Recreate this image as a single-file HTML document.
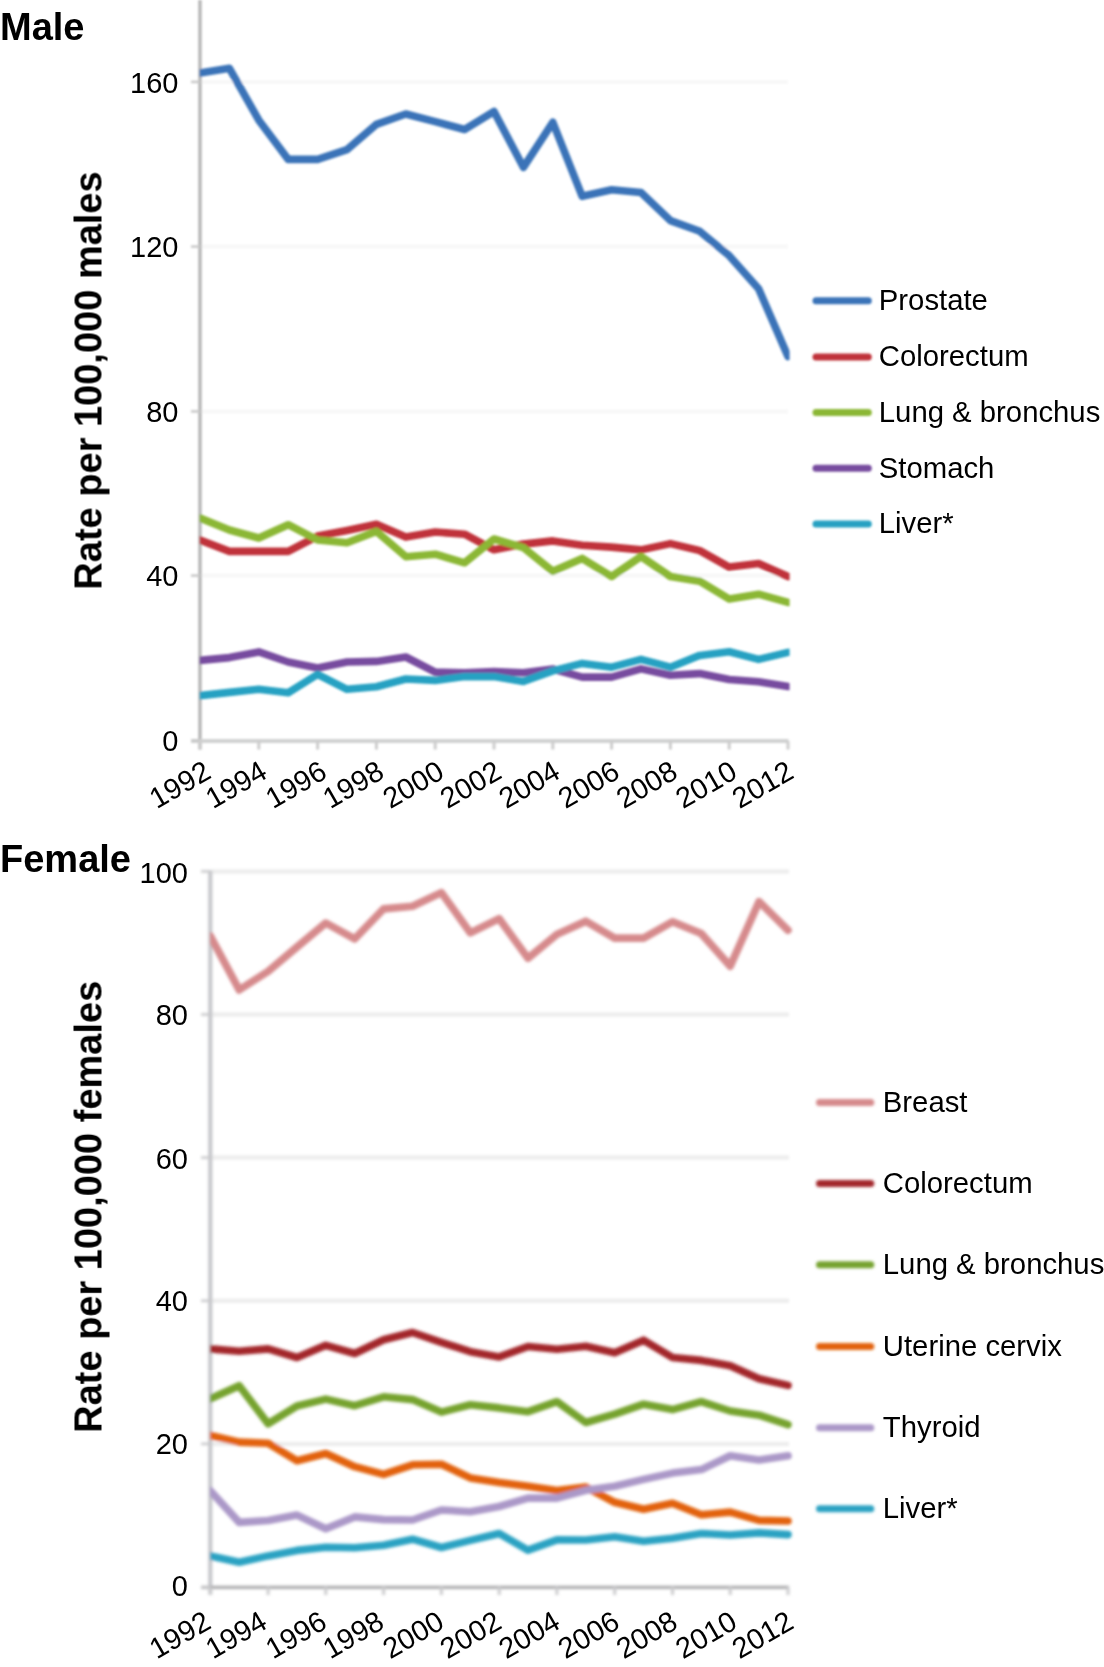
<!DOCTYPE html>
<html><head><meta charset="utf-8"><title>Cancer incidence trends</title>
<style>
html,body{margin:0;padding:0;background:#fff;overflow:hidden;width:1104px;height:1667px;}
svg{display:block;}
text{font-family:"Liberation Sans", sans-serif;fill:#000;}
</style></head><body>
<svg width="1104" height="1667" viewBox="0 0 1104 1667">
<defs><filter id="soft" filterUnits="userSpaceOnUse" x="0" y="0" width="1104" height="1667"><feGaussianBlur stdDeviation="1"/></filter>
<filter id="soft2" filterUnits="userSpaceOnUse" x="0" y="0" width="1104" height="1667"><feGaussianBlur stdDeviation="1.5"/></filter>
<filter id="flat" filterUnits="userSpaceOnUse" x="0" y="0" width="1104" height="1667"><feOffset dx="0" dy="0"/></filter>
<clipPath id="mclip"><rect x="199.6" y="0" width="590" height="760"/></clipPath>
<clipPath id="fclip"><rect x="209.9" y="860" width="584" height="740"/></clipPath></defs>
<rect width="1104" height="1667" fill="#fff"/>
<g filter="url(#soft)">
<line x1="201" y1="81.9" x2="788" y2="81.9" stroke="#f8f8f8" stroke-width="4"/>
<line x1="201" y1="246.6" x2="788" y2="246.6" stroke="#f8f8f8" stroke-width="4"/>
<line x1="201" y1="411.4" x2="788" y2="411.4" stroke="#f8f8f8" stroke-width="4"/>
<line x1="201" y1="575.6" x2="788" y2="575.6" stroke="#f8f8f8" stroke-width="4"/>
<line x1="200" y1="0" x2="200" y2="749.5" stroke="#b6b6b6" stroke-width="3.4"/>
<line x1="191" y1="741" x2="788.5" y2="741" stroke="#d0d1d1" stroke-width="3.8"/>
<line x1="191" y1="81.9" x2="200" y2="81.9" stroke="#c8c8c8" stroke-width="2.5"/>
<line x1="191" y1="246.6" x2="200" y2="246.6" stroke="#c8c8c8" stroke-width="2.5"/>
<line x1="191" y1="411.4" x2="200" y2="411.4" stroke="#c8c8c8" stroke-width="2.5"/>
<line x1="191" y1="575.6" x2="200" y2="575.6" stroke="#c8c8c8" stroke-width="2.5"/>
<line x1="191" y1="740.5" x2="200" y2="740.5" stroke="#c8c8c8" stroke-width="2.5"/>
<line x1="200.0" y1="741" x2="200.0" y2="749.5" stroke="#cdcdcd" stroke-width="3"/>
<line x1="258.8" y1="741" x2="258.8" y2="749.5" stroke="#cdcdcd" stroke-width="3"/>
<line x1="317.6" y1="741" x2="317.6" y2="749.5" stroke="#cdcdcd" stroke-width="3"/>
<line x1="376.4" y1="741" x2="376.4" y2="749.5" stroke="#cdcdcd" stroke-width="3"/>
<line x1="435.2" y1="741" x2="435.2" y2="749.5" stroke="#cdcdcd" stroke-width="3"/>
<line x1="494.0" y1="741" x2="494.0" y2="749.5" stroke="#cdcdcd" stroke-width="3"/>
<line x1="552.8" y1="741" x2="552.8" y2="749.5" stroke="#cdcdcd" stroke-width="3"/>
<line x1="611.6" y1="741" x2="611.6" y2="749.5" stroke="#cdcdcd" stroke-width="3"/>
<line x1="670.4" y1="741" x2="670.4" y2="749.5" stroke="#cdcdcd" stroke-width="3"/>
<line x1="729.2" y1="741" x2="729.2" y2="749.5" stroke="#cdcdcd" stroke-width="3"/>
<line x1="788.0" y1="741" x2="788.0" y2="749.5" stroke="#cdcdcd" stroke-width="3"/>
<g clip-path="url(#mclip)">
<polyline points="200.0,73.0 229.4,68.3 258.8,120.2 288.2,159.4 317.6,159.4 347.0,149.7 376.4,124.4 405.8,114.0 435.2,121.6 464.6,129.5 494.0,111.5 523.4,167.3 552.8,122.3 582.2,196.3 611.6,189.7 641.0,192.5 670.4,220.6 699.8,231.3 729.2,255.7 758.6,288.8 788.0,356.5" fill="none" stroke="#3b73b8" stroke-width="7.6" stroke-linejoin="round" stroke-linecap="round"/>
<polyline points="200.0,540.0 229.4,551.4 258.8,551.4 288.2,551.4 317.6,536.1 347.0,530.4 376.4,524.3 405.8,537.1 435.2,532.0 464.6,534.2 494.0,549.8 523.4,544.1 552.8,540.9 582.2,545.2 611.6,547.1 641.0,549.9 670.4,543.6 699.8,550.6 729.2,567.1 758.6,563.6 788.0,576.6" fill="none" stroke="#c0333a" stroke-width="7.6" stroke-linejoin="round" stroke-linecap="round"/>
<polyline points="200.0,518.1 229.4,530.0 258.8,538.0 288.2,524.7 317.6,540.0 347.0,542.8 376.4,531.4 405.8,556.7 435.2,554.2 464.6,562.8 494.0,539.0 523.4,547.6 552.8,571.3 582.2,558.4 611.6,576.5 641.0,556.5 670.4,576.5 699.8,581.3 729.2,598.9 758.6,594.2 788.0,602.4" fill="none" stroke="#8bb734" stroke-width="7.6" stroke-linejoin="round" stroke-linecap="round"/>
<polyline points="200.0,660.4 229.4,657.6 258.8,651.9 288.2,662.0 317.6,668.0 347.0,662.0 376.4,661.4 405.8,657.0 435.2,672.2 464.6,672.8 494.0,671.5 523.4,672.8 552.8,669.0 582.2,677.1 611.6,677.1 641.0,668.9 670.4,675.2 699.8,673.6 729.2,679.5 758.6,681.8 788.0,686.5" fill="none" stroke="#774c9f" stroke-width="7.6" stroke-linejoin="round" stroke-linecap="round"/>
<polyline points="200.0,695.6 229.4,692.4 258.8,689.3 288.2,692.8 317.6,674.4 347.0,689.3 376.4,686.7 405.8,679.0 435.2,680.4 464.6,676.6 494.0,676.6 523.4,681.4 552.8,670.9 582.2,663.4 611.6,667.2 641.0,659.4 670.4,667.2 699.8,655.4 729.2,651.7 758.6,659.4 788.0,652.4" fill="none" stroke="#28a1c2" stroke-width="7.6" stroke-linejoin="round" stroke-linecap="round"/>
</g>
<line x1="816" y1="300.8" x2="868.3" y2="300.8" stroke="#3b73b8" stroke-width="7" stroke-linecap="round"/>
<line x1="816" y1="357" x2="868.3" y2="357" stroke="#c0333a" stroke-width="7" stroke-linecap="round"/>
<line x1="816" y1="412.6" x2="868.3" y2="412.6" stroke="#8bb734" stroke-width="7" stroke-linecap="round"/>
<line x1="816" y1="468.3" x2="868.3" y2="468.3" stroke="#774c9f" stroke-width="7" stroke-linecap="round"/>
<line x1="816" y1="523.9" x2="868.3" y2="523.9" stroke="#28a1c2" stroke-width="7" stroke-linecap="round"/>
</g>
<g filter="url(#soft2)">
<line x1="211" y1="871.4" x2="789" y2="871.4" stroke="#ebebeb" stroke-width="4"/>
<line x1="211" y1="1014.5" x2="789" y2="1014.5" stroke="#ebebeb" stroke-width="4"/>
<line x1="211" y1="1157.6" x2="789" y2="1157.6" stroke="#ebebeb" stroke-width="4"/>
<line x1="211" y1="1300.8" x2="789" y2="1300.8" stroke="#ebebeb" stroke-width="4"/>
<line x1="211" y1="1443.9" x2="789" y2="1443.9" stroke="#ebebeb" stroke-width="4"/>
<line x1="210.3" y1="870.4" x2="210.3" y2="1594.5" stroke="#c4c5c9" stroke-width="4"/>
<line x1="201" y1="1587.3" x2="789" y2="1587.3" stroke="#adadaf" stroke-width="3.2"/>
<line x1="201" y1="871.4" x2="210" y2="871.4" stroke="#c8c8ca" stroke-width="2.5"/>
<line x1="201" y1="1014.5" x2="210" y2="1014.5" stroke="#c8c8ca" stroke-width="2.5"/>
<line x1="201" y1="1157.6" x2="210" y2="1157.6" stroke="#c8c8ca" stroke-width="2.5"/>
<line x1="201" y1="1300.8" x2="210" y2="1300.8" stroke="#c8c8ca" stroke-width="2.5"/>
<line x1="201" y1="1443.9" x2="210" y2="1443.9" stroke="#c8c8ca" stroke-width="2.5"/>
<line x1="201" y1="1587.0" x2="210" y2="1587.0" stroke="#c8c8ca" stroke-width="2.5"/>
<line x1="210.3" y1="1587" x2="210.3" y2="1595" stroke="#cbcbcd" stroke-width="3"/>
<line x1="268.1" y1="1587" x2="268.1" y2="1595" stroke="#cbcbcd" stroke-width="3"/>
<line x1="325.8" y1="1587" x2="325.8" y2="1595" stroke="#cbcbcd" stroke-width="3"/>
<line x1="383.6" y1="1587" x2="383.6" y2="1595" stroke="#cbcbcd" stroke-width="3"/>
<line x1="441.4" y1="1587" x2="441.4" y2="1595" stroke="#cbcbcd" stroke-width="3"/>
<line x1="499.2" y1="1587" x2="499.2" y2="1595" stroke="#cbcbcd" stroke-width="3"/>
<line x1="556.9" y1="1587" x2="556.9" y2="1595" stroke="#cbcbcd" stroke-width="3"/>
<line x1="614.7" y1="1587" x2="614.7" y2="1595" stroke="#cbcbcd" stroke-width="3"/>
<line x1="672.5" y1="1587" x2="672.5" y2="1595" stroke="#cbcbcd" stroke-width="3"/>
<line x1="730.2" y1="1587" x2="730.2" y2="1595" stroke="#cbcbcd" stroke-width="3"/>
<line x1="788.0" y1="1587" x2="788.0" y2="1595" stroke="#cbcbcd" stroke-width="3"/>
<g clip-path="url(#fclip)">
<polyline points="210.3,936.1 239.2,989.9 268.1,971.4 297.0,947.0 325.8,923.0 354.7,938.8 383.6,908.9 412.5,906.2 441.4,892.6 470.3,932.8 499.2,918.7 528.0,958.3 556.9,934.4 585.8,921.2 614.7,938.1 643.6,938.1 672.5,921.8 701.3,933.6 730.2,966.1 759.1,901.6 788.0,930.2" fill="none" stroke="#d68a8c" stroke-width="7.6" stroke-linejoin="round" stroke-linecap="round"/>
<polyline points="210.3,1348.9 239.2,1351.3 268.1,1348.9 297.0,1357.5 325.8,1345.3 354.7,1353.5 383.6,1339.8 412.5,1332.5 441.4,1342.3 470.3,1351.7 499.2,1356.9 528.0,1346.5 556.9,1349.2 585.8,1346.2 614.7,1352.7 643.6,1340.2 672.5,1357.5 701.3,1360.4 730.2,1365.8 759.1,1378.8 788.0,1385.4" fill="none" stroke="#a3262a" stroke-width="7.6" stroke-linejoin="round" stroke-linecap="round"/>
<polyline points="210.3,1398.8 239.2,1385.7 268.1,1423.8 297.0,1406.0 325.8,1399.1 354.7,1405.7 383.6,1396.8 412.5,1399.6 441.4,1412.1 470.3,1404.8 499.2,1407.9 528.0,1411.7 556.9,1401.7 585.8,1422.5 614.7,1414.2 643.6,1404.2 672.5,1409.6 701.3,1401.7 730.2,1411.0 759.1,1415.2 788.0,1424.6" fill="none" stroke="#76a32e" stroke-width="7.6" stroke-linejoin="round" stroke-linecap="round"/>
<polyline points="210.3,1435.4 239.2,1442.1 268.1,1443.2 297.0,1460.8 325.8,1453.5 354.7,1466.7 383.6,1474.4 412.5,1464.8 441.4,1464.2 470.3,1477.9 499.2,1482.5 528.0,1486.3 556.9,1490.4 585.8,1487.0 614.7,1502.3 643.6,1509.2 672.5,1503.3 701.3,1514.8 730.2,1512.1 759.1,1520.4 788.0,1521.0" fill="none" stroke="#e2620f" stroke-width="7.6" stroke-linejoin="round" stroke-linecap="round"/>
<polyline points="210.3,1490.7 239.2,1522.4 268.1,1520.5 297.0,1515.1 325.8,1528.7 354.7,1516.9 383.6,1519.6 412.5,1520.0 441.4,1510.0 470.3,1511.7 499.2,1506.5 528.0,1498.1 556.9,1498.1 585.8,1490.3 614.7,1486.3 643.6,1479.4 672.5,1473.1 701.3,1469.6 730.2,1455.8 759.1,1460.0 788.0,1455.8" fill="none" stroke="#ab98c8" stroke-width="7.6" stroke-linejoin="round" stroke-linecap="round"/>
<polyline points="210.3,1555.9 239.2,1562.2 268.1,1555.9 297.0,1550.4 325.8,1547.2 354.7,1547.7 383.6,1545.2 412.5,1539.2 441.4,1547.5 470.3,1540.4 499.2,1533.5 528.0,1550.2 556.9,1539.8 585.8,1540.0 614.7,1536.7 643.6,1541.3 672.5,1538.3 701.3,1533.5 730.2,1535.0 759.1,1532.9 788.0,1534.6" fill="none" stroke="#2ba2c2" stroke-width="7.6" stroke-linejoin="round" stroke-linecap="round"/>
</g>
<line x1="819.5" y1="1102.5" x2="870.8" y2="1102.5" stroke="#d68a8c" stroke-width="7" stroke-linecap="round"/>
<line x1="819.5" y1="1183.5" x2="870.8" y2="1183.5" stroke="#a3262a" stroke-width="7" stroke-linecap="round"/>
<line x1="819.5" y1="1264.8" x2="870.8" y2="1264.8" stroke="#76a32e" stroke-width="7" stroke-linecap="round"/>
<line x1="819.5" y1="1346.5" x2="870.8" y2="1346.5" stroke="#e2620f" stroke-width="7" stroke-linecap="round"/>
<line x1="819.5" y1="1427.8" x2="870.8" y2="1427.8" stroke="#ab98c8" stroke-width="7" stroke-linecap="round"/>
<line x1="819.5" y1="1508.8" x2="870.8" y2="1508.8" stroke="#2ba2c2" stroke-width="7" stroke-linecap="round"/>
</g>
<g filter="url(#flat)">
<text x="178.5" y="92.7" font-size="29" text-anchor="end">160</text>
<text x="178.5" y="257.2" font-size="29" text-anchor="end">120</text>
<text x="178.5" y="421.7" font-size="29" text-anchor="end">80</text>
<text x="178.5" y="586.0" font-size="29" text-anchor="end">40</text>
<text x="178.5" y="751.0" font-size="29" text-anchor="end">0</text>
<text transform="translate(212.6,777) rotate(-30)" font-size="29" text-anchor="end">1992</text>
<text transform="translate(268.9,777) rotate(-30)" font-size="29" text-anchor="end">1994</text>
<text transform="translate(328.8,777) rotate(-30)" font-size="29" text-anchor="end">1996</text>
<text transform="translate(386.0,777) rotate(-30)" font-size="29" text-anchor="end">1998</text>
<text transform="translate(446.0,777) rotate(-30)" font-size="29" text-anchor="end">2000</text>
<text transform="translate(503.4,777) rotate(-30)" font-size="29" text-anchor="end">2002</text>
<text transform="translate(562.0,777) rotate(-30)" font-size="29" text-anchor="end">2004</text>
<text transform="translate(621.4,777) rotate(-30)" font-size="29" text-anchor="end">2006</text>
<text transform="translate(679.5,777) rotate(-30)" font-size="29" text-anchor="end">2008</text>
<text transform="translate(738.9,777) rotate(-30)" font-size="29" text-anchor="end">2010</text>
<text transform="translate(795.4,777) rotate(-30)" font-size="29" text-anchor="end">2012</text>
<text x="0" y="40" font-size="38" font-weight="bold">Male</text>
<text transform="translate(101.5,380.5) rotate(-90)" font-size="38" font-weight="bold" text-anchor="middle">Rate per 100,000 males</text>
<text x="878.8" y="310.0" font-size="29.3">Prostate</text>
<text x="878.8" y="366.2" font-size="29.3">Colorectum</text>
<text x="878.8" y="421.8" font-size="29.3">Lung &amp; bronchus</text>
<text x="878.8" y="477.5" font-size="29.3">Stomach</text>
<text x="878.8" y="533.1" font-size="29.3">Liver*</text>
<text x="188" y="882.8" font-size="29" text-anchor="end">100</text>
<text x="188" y="1025.4" font-size="29" text-anchor="end">80</text>
<text x="188" y="1168.6" font-size="29" text-anchor="end">60</text>
<text x="188" y="1311.4" font-size="29" text-anchor="end">40</text>
<text x="188" y="1453.6" font-size="29" text-anchor="end">20</text>
<text x="188" y="1596.1" font-size="29" text-anchor="end">0</text>
<text transform="translate(212.6,1627.2) rotate(-30)" font-size="29" text-anchor="end">1992</text>
<text transform="translate(268.9,1627.2) rotate(-30)" font-size="29" text-anchor="end">1994</text>
<text transform="translate(328.8,1627.2) rotate(-30)" font-size="29" text-anchor="end">1996</text>
<text transform="translate(386.0,1627.2) rotate(-30)" font-size="29" text-anchor="end">1998</text>
<text transform="translate(446.0,1627.2) rotate(-30)" font-size="29" text-anchor="end">2000</text>
<text transform="translate(503.4,1627.2) rotate(-30)" font-size="29" text-anchor="end">2002</text>
<text transform="translate(562.0,1627.2) rotate(-30)" font-size="29" text-anchor="end">2004</text>
<text transform="translate(621.4,1627.2) rotate(-30)" font-size="29" text-anchor="end">2006</text>
<text transform="translate(679.5,1627.2) rotate(-30)" font-size="29" text-anchor="end">2008</text>
<text transform="translate(738.9,1627.2) rotate(-30)" font-size="29" text-anchor="end">2010</text>
<text transform="translate(795.4,1627.2) rotate(-30)" font-size="29" text-anchor="end">2012</text>
<text x="0" y="872" font-size="38" font-weight="bold">Female</text>
<text transform="translate(101.5,1206.8) rotate(-90)" font-size="38" font-weight="bold" text-anchor="middle">Rate per 100,000 females</text>
<text x="882.8" y="1111.7" font-size="29.3">Breast</text>
<text x="882.8" y="1192.7" font-size="29.3">Colorectum</text>
<text x="882.8" y="1274.0" font-size="29.3">Lung &amp; bronchus</text>
<text x="882.8" y="1355.7" font-size="29.3">Uterine cervix</text>
<text x="882.8" y="1437.0" font-size="29.3">Thyroid</text>
<text x="882.8" y="1518.0" font-size="29.3">Liver*</text>
</g>
</svg></body></html>
